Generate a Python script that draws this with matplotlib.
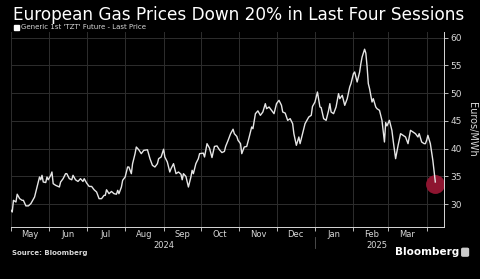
import matplotlib
matplotlib.use("Agg")
import matplotlib.pyplot as plt
import pandas as pd
from matplotlib.patches import FancyBboxPatch

# Generic 1st 'TZT' future, EUR/MWh
dates = [
    "2024-05-01", "2024-05-02", "2024-05-03", "2024-05-05", "2024-05-06", "2024-05-08",
    "2024-05-10", "2024-05-11", "2024-05-13", "2024-05-15", "2024-05-17", "2024-05-20",
    "2024-05-22", "2024-05-24", "2024-05-25", "2024-05-26", "2024-05-27", "2024-05-29",
    "2024-05-30", "2024-05-31",
    "2024-06-02", "2024-06-03", "2024-06-04", "2024-06-06", "2024-06-09", "2024-06-10",
    "2024-06-12", "2024-06-14", "2024-06-15", "2024-06-17", "2024-06-19", "2024-06-20",
    "2024-06-22", "2024-06-24", "2024-06-26", "2024-06-28", "2024-06-29",
    "2024-07-01", "2024-07-03", "2024-07-05", "2024-07-07", "2024-07-09", "2024-07-11",
    "2024-07-13", "2024-07-15", "2024-07-16", "2024-07-17", "2024-07-19", "2024-07-21",
    "2024-07-23", "2024-07-25", "2024-07-26", "2024-07-27", "2024-07-29", "2024-07-30",
    "2024-08-01", "2024-08-03", "2024-08-04", "2024-08-06", "2024-08-07", "2024-08-09",
    "2024-08-10", "2024-08-12", "2024-08-14", "2024-08-16", "2024-08-19", "2024-08-21",
    "2024-08-23", "2024-08-25", "2024-08-27", "2024-08-28", "2024-08-30",
    "2024-09-01", "2024-09-02", "2024-09-04", "2024-09-06", "2024-09-07", "2024-09-09",
    "2024-09-11", "2024-09-13", "2024-09-15", "2024-09-16", "2024-09-17", "2024-09-19",
    "2024-09-21", "2024-09-23", "2024-09-24", "2024-09-25", "2024-09-27", "2024-09-29",
    "2024-09-30",
    "2024-10-03", "2024-10-04", "2024-10-06", "2024-10-08", "2024-10-10", "2024-10-12",
    "2024-10-14", "2024-10-16", "2024-10-18", "2024-10-20", "2024-10-21", "2024-10-23",
    "2024-10-25", "2024-10-27", "2024-10-28", "2024-10-30", "2024-10-31",
    "2024-11-02", "2024-11-03", "2024-11-05", "2024-11-07", "2024-11-09", "2024-11-11",
    "2024-11-12", "2024-11-14", "2024-11-16", "2024-11-18", "2024-11-20", "2024-11-22",
    "2024-11-23", "2024-11-25", "2024-11-27", "2024-11-29",
    "2024-12-01", "2024-12-03", "2024-12-05", "2024-12-06", "2024-12-08", "2024-12-10",
    "2024-12-12", "2024-12-14", "2024-12-15", "2024-12-17", "2024-12-19", "2024-12-20",
    "2024-12-22", "2024-12-24", "2024-12-27", "2024-12-29", "2024-12-30",
    "2025-01-01", "2025-01-03", "2025-01-05", "2025-01-06", "2025-01-08", "2025-01-10",
    "2025-01-12", "2025-01-13", "2025-01-14", "2025-01-16", "2025-01-18", "2025-01-20",
    "2025-01-21", "2025-01-23", "2025-01-25", "2025-01-27", "2025-01-29", "2025-01-30",
    "2025-02-01", "2025-02-02", "2025-02-04", "2025-02-06", "2025-02-07", "2025-02-08",
    "2025-02-10", "2025-02-11", "2025-02-12", "2025-02-13", "2025-02-14", "2025-02-16",
    "2025-02-17", "2025-02-19", "2025-02-20", "2025-02-22", "2025-02-24", "2025-02-26",
    "2025-02-27", "2025-02-28",
    "2025-03-02", "2025-03-04", "2025-03-05", "2025-03-07", "2025-03-09", "2025-03-11",
    "2025-03-13", "2025-03-15", "2025-03-17", "2025-03-19", "2025-03-21", "2025-03-23",
    "2025-03-25", "2025-03-26", "2025-03-28", "2025-03-30", "2025-03-31",
    "2025-04-01", "2025-04-02", "2025-04-04", "2025-04-06", "2025-04-08",
]
prices = [
    28.9, 28.6, 30.7, 30.4, 31.8, 31.0,
    30.7, 30.7, 29.7, 29.7, 30.1, 31.3,
    33.1, 34.9, 34.4, 35.2, 34.0, 33.9,
    34.9, 34.4,
    35.2, 35.8, 33.7, 33.4, 33.1, 34.0,
    34.6, 35.5, 35.5, 34.6, 34.4, 35.2,
    34.4, 34.1, 34.6, 34.1, 34.6,
    33.8, 33.2, 33.2, 32.6, 32.2, 31.0,
    31.0, 31.6, 31.6, 32.6, 31.9, 32.3,
    31.9, 31.8, 32.5, 31.9, 33.1, 34.3,
    34.9, 36.7, 36.7, 35.5, 37.3, 39.1,
    40.3, 39.8, 39.1, 39.7, 39.8, 38.2,
    37.0, 36.7, 37.3, 38.2, 38.5,
    39.9, 38.5, 37.6, 35.8, 36.4, 37.3,
    35.5, 35.8, 35.4, 34.4, 35.5, 35.0,
    33.1, 34.9, 36.1, 35.5, 37.3, 38.2,
    39.1,
    39.2, 38.5, 40.9, 40.1, 38.4, 40.4,
    40.5, 39.8, 39.3, 39.5, 40.4, 41.5,
    42.7, 43.5, 42.7, 42.2, 41.5,
    40.9, 39.1, 40.3, 40.4, 42.1, 43.9,
    43.6, 46.3, 46.8, 46.0, 46.6, 48.1,
    47.2, 47.5, 46.9, 46.3,
    48.1, 48.7, 47.8, 46.6, 46.4, 45.1,
    45.4, 44.5, 42.7, 40.6, 42.1, 40.9,
    42.7, 44.5, 45.7, 46.0, 47.6,
    48.4, 50.2, 47.5, 47.4, 45.4, 45.1,
    46.9, 48.1, 46.6, 46.3, 47.5, 49.9,
    49.0, 49.6, 47.8, 49.0, 51.1, 51.7,
    53.5, 53.8, 52.0, 53.8, 55.3, 56.5,
    57.9, 57.2, 54.8, 51.7, 50.8, 48.4,
    49.0, 47.5, 47.2, 46.9, 45.1, 41.2,
    44.7, 44.1,
    45.1, 43.3, 41.5, 38.2, 40.6, 42.7,
    42.4, 42.1, 40.9, 43.3, 43.0, 42.7,
    42.1, 42.7, 41.2, 40.9, 40.9,
    41.5, 42.4, 40.9, 37.9, 34.0,
]

title = "European Gas Prices Down 20% in Last Four Sessions"
legend_label = "Generic 1st 'TZT' Future - Last Price"
month_labels = ["May", "Jun", "Jul", "Aug", "Sep", "Oct", "Nov", "Dec",
                "Jan", "Feb", "Mar"]
y_ticks = [30, 35, 40, 45, 50, 55, 60]

x = pd.to_datetime(dates)

bg = "black"
grid_c = "#2e2e2e"
txt_c = "#d8d8d8"

fig = plt.figure(figsize=(4.8, 2.79), dpi=100, facecolor=bg)
ax = fig.add_axes([0.0229, 0.1864, 0.925 - 0.0229, 0.8853 - 0.1864], facecolor=bg)

ax.plot(x, prices, color="#e6e6e6", lw=1.0, zorder=3)
# highlight the last point
ax.scatter([x[-1]], [prices[-1] - 0.3], s=185, color="#8e1530", zorder=2, lw=0)

ax.set_xlim(pd.Timestamp("2024-05-01"), pd.Timestamp("2025-04-15"))
ax.set_ylim(25.9, 61.0)

# month gridlines and ticks
month_starts = pd.date_range("2024-05-01", "2025-04-01", freq="MS")
ax.set_xticks(month_starts)
ax.set_xticklabels([])
ax.set_xticks([m + pd.Timedelta(days=15) for m in month_starts[:-1]], minor=True)
ax.set_xticklabels(month_labels, minor=True)
ax.tick_params(axis="x", which="major", length=3, color=txt_c, width=0.6)
ax.tick_params(axis="x", which="minor", length=0, labelsize=6, colors=txt_c, pad=2)

ax.yaxis.tick_right()
ax.set_yticks(y_ticks)
ax.tick_params(axis="y", length=3, width=0.6, color=txt_c, labelsize=6.5,
               labelcolor=txt_c, pad=1.5)
ax.grid(True, which="major", color=grid_c, lw=0.7)

for s in ["top", "left"]:
    ax.spines[s].set_visible(False)
for s in ["right", "bottom"]:
    ax.spines[s].set_color(txt_c)
    ax.spines[s].set_linewidth(0.7)

ax.yaxis.set_label_position("right")
ax.set_ylabel("Euros/MWh", rotation=-90, color=txt_c, fontsize=7, labelpad=11)

# year labels + separator
xt = ax.get_xaxis_transform()
ax.text(pd.Timestamp("2024-09-01"), -0.07, "2024", transform=xt,
        ha="center", va="top", fontsize=6, color=txt_c)
ax.text(pd.Timestamp("2025-02-20"), -0.07, "2025", transform=xt,
        ha="center", va="top", fontsize=6, color=txt_c)
ax.plot([pd.Timestamp("2025-01-01")] * 2, [-0.05, -0.11], transform=xt,
        color="#555555", lw=0.6, clip_on=False)

# title, legend, footer
fig.text(0.028, 0.93, title, ha="left", va="baseline", fontsize=12.2, color="white")
fig.patches.append(FancyBboxPatch((0.029, 0.894), 0.010, 0.018, boxstyle="square,pad=0",
                                  transform=fig.transFigure, color="white"))
fig.text(0.043, 0.903, legend_label, ha="left", va="center", fontsize=5, color=txt_c)
fig.text(0.025, 0.092, "Source: Bloomberg", ha="left", va="center", fontsize=5,
         color=txt_c, fontweight="bold")
fig.text(0.957, 0.097, "Bloomberg", ha="right", va="center", fontsize=7.5,
         color="white", fontweight="bold")
fig.patches.append(FancyBboxPatch((0.962, 0.082), 0.014, 0.028,
                                  boxstyle="round,pad=0,rounding_size=0.003",
                                  transform=fig.transFigure, color="#cccccc"))

fig.savefig("out.png", dpi=100, facecolor=bg)
